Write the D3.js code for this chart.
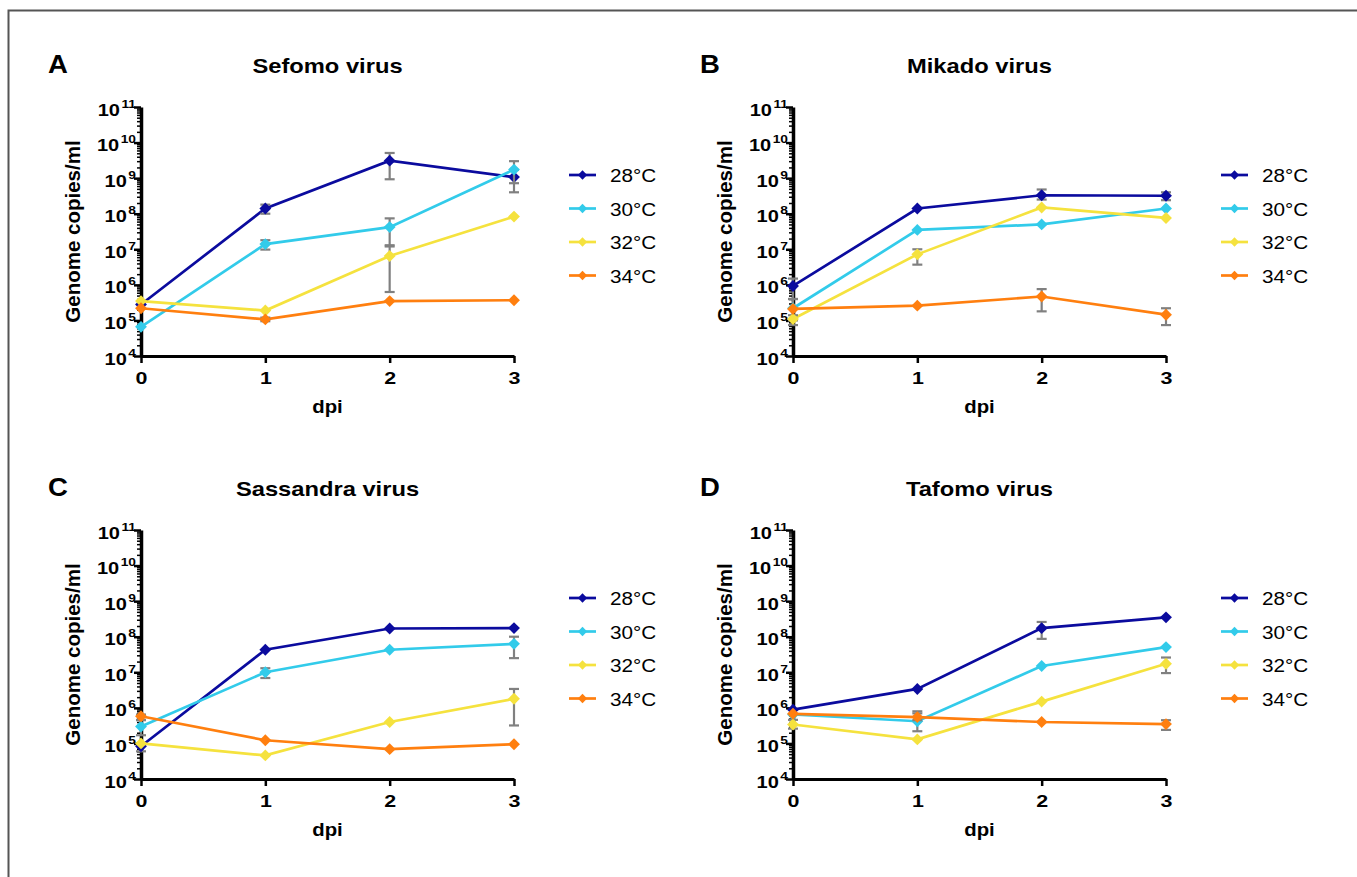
<!DOCTYPE html>
<html>
<head>
<meta charset="utf-8">
<script src="https://cdn.jsdelivr.net/npm/d3@7"></script>
<style>
  body { margin: 0; background: #fff; }
  svg { font-family: Arial, "Liberation Sans", sans-serif; }
</style>
</head>
<body>
<svg id="chart" width="1357" height="877"></svg>
<script>
const days = [0, 1, 2, 3]
const temps = ['28°C', '30°C', '32°C', '34°C']
const colors = ['#0b0b9e', '#32cbea', '#f5e23e', '#ff7f0f']
const yTicks = [1e4, 1e5, 1e6, 1e7, 1e8, 1e9, 1e10, 1e11]

// series values per temperature (28, 30, 32, 34 °C)
const sefomo = [
  [2.8e5, 1.4e8, 3.1e9, 1.07e9],
  [6.6e4, 1.4e7, 4.2e7, 1.74e9],
  [3.5e5, 1.9e5, 6.5e6, 8.3e7],
  [2.2e5, 1.07e5, 3.5e5, 3.7e5]
]
const mikado = [
  [9.3e5, 1.4e8, 3.3e8, 3.2e8],
  [2.2e5, 3.5e7, 5.0e7, 1.4e8],
  [1.1e5, 7.2e6, 1.5e8, 7.6e7],
  [2.1e5, 2.6e5, 4.7e5, 1.45e5]
]
const sassandra = [
  [8.3e4, 4.3e7, 1.7e8, 1.75e8],
  [3.0e5, 1.0e7, 4.3e7, 6.3e7],
  [1.0e5, 4.6e4, 4.0e5, 1.8e6],
  [5.8e5, 1.23e5, 6.9e4, 9.5e4]
]
const tafomo = [
  [8.9e5, 3.4e6, 1.74e8, 3.5e8],
  [6.5e5, 4.2e5, 1.5e7, 5.1e7],
  [3.4e5, 1.3e5, 1.5e6, 1.74e7],
  [6.8e5, 5.5e5, 4.0e5, 3.5e5]
]

// error bars: [series, day, low, high]
const sefomoErr = [
  [0, 1, 1.0e8, 1.8e8], [0, 2, 9.3e8, 5.1e9], [0, 3, 4.0e8, 1.7e9],
  [1, 1, 9.8e6, 1.8e7], [1, 2, 1.2e7, 7.4e7], [1, 3, 7.2e8, 3.0e9],
  [2, 2, 6.3e5, 1.3e7], [3, 1, 9.5e4, 1.2e5]
]
const mikadoErr = [
  [0, 0, 4.0e5, 1.5e6], [0, 2, 2.5e8, 4.8e8], [0, 3, 2.4e8, 4.0e8],
  [1, 0, 1.0e5, 4.0e5], [2, 0, 7.4e4, 1.4e5], [2, 1, 3.7e6, 1.0e7],
  [3, 2, 1.8e5, 7.6e5], [3, 3, 7.4e4, 2.2e5]
]
const sassandraErr = [
  [0, 0, 6.0e4, 1.0e5], [1, 0, 1.7e5, 4.6e5], [1, 1, 6.9e6, 1.3e7],
  [1, 3, 2.5e7, 1.0e8], [2, 3, 3.2e5, 3.4e6], [3, 0, 4.5e5, 6.5e5]
]
const tafomoErr = [
  [0, 2, 8.7e7, 2.6e8], [1, 1, 2.2e5, 8.0e5], [2, 0, 2.6e5, 4.6e5],
  [2, 3, 9.5e6, 2.6e7], [3, 3, 2.4e5, 4.5e5], [3, 1, 4.5e5, 7.0e5]
]

const panels = [
  { letter: 'A', title: 'Sefomo virus', data: sefomo, err: sefomoErr, x: 141, y: 107 },
  { letter: 'B', title: 'Mikado virus', data: mikado, err: mikadoErr, x: 793, y: 107 },
  { letter: 'C', title: 'Sassandra virus', data: sassandra, err: sassandraErr, x: 141, y: 530 },
  { letter: 'D', title: 'Tafomo virus', data: tafomo, err: tafomoErr, x: 793, y: 530 }
]

const width = 373, height = 249

const svg = d3.select('#chart')

// frame (top and left edges visible)
svg.append('path')
    .attr('d', 'M8.5,877V10.5H1357')
    .attr('fill', 'none')
    .attr('stroke', '#555')
    .attr('stroke-width', 2)

const diamond = d3.symbol().type(d3.symbolDiamond2)

// the original figure is a bit wider than tall, so text gets a horizontal stretch
function wideText(parent, x, y, sx) {
  return parent.append('text')
      .attr('transform', 'translate(' + x + ',' + y + ') scale(' + sx + ',1)')
      .attr('fill', '#000')
}

panels.forEach(p => drawPanel(p))

function drawPanel(p) {
  const g = svg.append('g').attr('transform', 'translate(' + p.x + ',' + p.y + ')')

  const x = d3.scaleLinear().domain([0, 3]).range([0, width])
  const y = d3.scaleLog().domain([1e4, 1e11]).range([height, 0])

  // panel letter and title
  wideText(g, -93, -34, 1.1)
      .attr('font-size', 25).attr('font-weight', 'bold')
      .text(p.letter)
  wideText(g, width / 2, -34, 1.13)
      .attr('text-anchor', 'middle')
      .attr('font-size', 21).attr('font-weight', 'bold')
      .text(p.title)

  // minor log ticks
  const minor = []
  for (let e = 4; e < 11; e++) {
    for (let m = 2; m <= 9; m++) minor.push(m * Math.pow(10, e))
  }
  g.append('g')
      .call(d3.axisLeft(y).tickValues(minor).tickSize(4).tickFormat(''))
      .call(a => a.select('.domain').remove())
      .selectAll('line').attr('stroke', '#000').attr('stroke-width', 1.5)

  // major y ticks, labelled 10 with a superscript exponent
  const yAxis = g.append('g')
      .call(d3.axisLeft(y).tickValues(yTicks).tickSize(7).tickSizeOuter(0).tickFormat(''))
  yAxis.select('.domain').attr('stroke-width', 3.5)
  yAxis.selectAll('line').attr('stroke-width', 2.5)
  yAxis.selectAll('.tick').each(function(d) {
    const tick = d3.select(this)
    const sx = 1.25
    const sup = wideText(tick, -5, 0, sx)
        .attr('text-anchor', 'end')
        .attr('font-size', 11).attr('font-weight', 'bold')
        .text(Math.round(Math.log10(d)))
    const supW = sup.node().getComputedTextLength() * sx
    wideText(tick, -5 - supW - 1.5, 8, sx)
        .attr('text-anchor', 'end')
        .attr('font-size', 16).attr('font-weight', 'bold')
        .text('10')
  })

  g.append('text')
      .attr('transform', 'rotate(-90)')
      .attr('x', -height / 2).attr('y', -61)
      .attr('text-anchor', 'middle')
      .attr('font-size', 20.5).attr('font-weight', 'bold')
      .text('Genome copies/ml')

  // x axis
  const xAxis = g.append('g')
      .attr('transform', 'translate(0,' + height + ')')
      .call(d3.axisBottom(x).tickValues(days).tickSize(7).tickSizeOuter(0).tickFormat(''))
  xAxis.select('.domain').attr('stroke-width', 3)
  xAxis.selectAll('line').attr('stroke-width', 2.5)
  xAxis.selectAll('.tick').each(function(d) {
    wideText(d3.select(this), 0, 28, 1.3)
        .attr('text-anchor', 'middle')
        .attr('font-size', 16.5).attr('font-weight', 'bold')
        .text(d)
  })

  wideText(g, width / 2, height + 57, 1.1)
      .attr('text-anchor', 'middle')
      .attr('font-size', 18.5).attr('font-weight', 'bold')
      .text('dpi')

  const line = d3.line()
      .x((d, i) => x(days[i]))
      .y(d => y(d))

  p.data.forEach((values, s) => {
    g.append('path')
        .datum(values)
        .attr('fill', 'none')
        .attr('stroke', colors[s])
        .attr('stroke-width', 2.7)
        .attr('d', line)

    p.err.filter(e => e[0] === s).forEach(e => {
      const ex = x(days[e[1]])
      const eg = g.append('g').attr('stroke', '#808080').attr('stroke-width', 2.2)
      eg.append('line').attr('x1', ex).attr('x2', ex).attr('y1', y(e[2])).attr('y2', y(e[3]))
      eg.append('line').attr('x1', ex - 5).attr('x2', ex + 5).attr('y1', y(e[2])).attr('y2', y(e[2]))
      eg.append('line').attr('x1', ex - 5).attr('x2', ex + 5).attr('y1', y(e[3])).attr('y2', y(e[3]))
    })

    g.selectAll(null)
        .data(values)
        .join('path')
        .attr('transform', (d, i) => 'translate(' + x(days[i]) + ',' + y(d) + ')')
        .attr('d', diamond.size(90)())
        .attr('fill', colors[s])
  })

  // legend
  const lg = g.append('g').attr('transform', 'translate(' + (width + 55) + ',68)')
  temps.forEach((t, i) => {
    const row = lg.append('g').attr('transform', 'translate(0,' + (i * 33.5) + ')')
    row.append('line')
        .attr('x1', 0).attr('x2', 27)
        .attr('stroke', colors[i]).attr('stroke-width', 2.7)
    row.append('path')
        .attr('transform', 'translate(13.5,0)')
        .attr('d', diamond.size(55)())
        .attr('fill', colors[i])
    wideText(row, 41, 7, 1.12)
        .attr('font-size', 18.5)
        .text(t)
  })
}
</script>
</body>
</html>
